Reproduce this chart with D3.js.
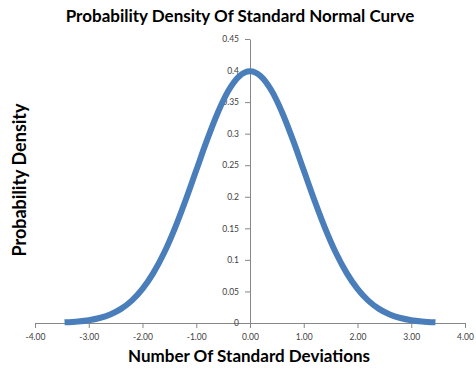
<!DOCTYPE html>
<html>
<head>
<meta charset="utf-8">
<script src="https://cdn.jsdelivr.net/npm/d3@7"></script>
<style>
  body { margin: 0; background: #fff; }
  text { font-family: Lato, "Open Sans", sans-serif; }
</style>
</head>
<body>
<div id="chart"></div>
<script>
// values
var zValues = [-3.45, -3.2, -3.0, -2.8, -2.6, -2.4, -2.2, -2.0, -1.8, -1.6, -1.4, -1.2, -1.0, -0.8, -0.6, -0.4, -0.2,
               0, 0.2, 0.4, 0.6, 0.8, 1.0, 1.2, 1.4, 1.6, 1.8, 2.0, 2.2, 2.4, 2.6, 2.8, 3.0, 3.2, 3.45];
var densValues = [0.001, 0.0024, 0.0044, 0.0079, 0.0136, 0.0224, 0.0355, 0.054, 0.079, 0.1109, 0.1497, 0.1942, 0.242, 0.2897, 0.3332, 0.3683, 0.391,
                  0.3989, 0.391, 0.3683, 0.3332, 0.2897, 0.242, 0.1942, 0.1497, 0.1109, 0.079, 0.054, 0.0355, 0.0224, 0.0136, 0.0079, 0.0044, 0.0024, 0.001];
var xTicks = [-4, -3, -2, -1, 0, 1, 2, 3, 4];
var yTicks = [0, 0.05, 0.1, 0.15, 0.2, 0.25, 0.3, 0.35, 0.4, 0.45];

var title = "Probability Density Of Standard Normal Curve";
var xTitle = "Number Of Standard Deviations";
var yTitle = "Probability Density";

var width = 476, height = 374;
var axisColor = "#878787", labelColor = "#404040", lineColor = "#4a7ebb";

var svg = d3.select("#chart").append("svg")
	.attr("width", width)
	.attr("height", height);

var x = d3.scaleLinear().domain([-4, 4]).range([35, 465]);
var y = d3.scaleLinear().domain([0, 0.45]).range([323, 39]);

// x axis along y = 0
var gx = svg.append("g")
	.attr("transform", "translate(0," + y(0) + ")")
	.call(d3.axisBottom(x).tickValues(xTicks).tickSize(5).tickSizeOuter(0).tickPadding(6)
		.tickFormat(d3.format(".2f")));
gx.select(".domain").attr("stroke", axisColor);
gx.selectAll(".tick line").attr("stroke", axisColor);
gx.selectAll(".tick text").attr("fill", labelColor).style("font-size", "8.5px")
	.text(function(d){ return d3.format(".2f")(d).replace("−", "-"); });

// y axis along x = 0
var gy = svg.append("g")
	.attr("transform", "translate(" + x(0) + ",0)")
	.call(d3.axisLeft(y).tickValues(yTicks).tickSize(5).tickSizeOuter(0).tickPadding(6)
		.tickFormat(function(d){ return String(+d.toFixed(2)); }));
gy.select(".domain").attr("stroke", axisColor);
gy.selectAll(".tick line").attr("stroke", axisColor);
gy.selectAll(".tick text").attr("fill", labelColor).style("font-size", "8.5px");

// curve
var pts = zValues.map(function(z, i){ return [z, densValues[i]]; });
var line = d3.line()
	.x(function(d){ return x(d[0]); })
	.y(function(d){ return y(d[1]); })
	.curve(d3.curveMonotoneX);
svg.append("path")
	.datum(pts)
	.attr("d", line)
	.attr("fill", "none")
	.attr("stroke", lineColor)
	.attr("stroke-width", 6);

// titles
svg.append("text")
	.attr("x", 240).attr("y", 22)
	.attr("text-anchor", "middle")
	.style("font-size", "17px").style("font-weight", "bold")
	.attr("fill", "#000")
	.text(title);

svg.append("text")
	.attr("x", 249).attr("y", 362)
	.attr("text-anchor", "middle")
	.style("font-size", "17px").style("font-weight", "bold")
	.attr("fill", "#000")
	.text(xTitle);

svg.append("text")
	.attr("transform", "translate(26,180) rotate(-90)")
	.attr("text-anchor", "middle")
	.style("font-size", "18px").style("font-weight", "bold")
	.attr("fill", "#000")
	.text(yTitle);
</script>
</body>
</html>
